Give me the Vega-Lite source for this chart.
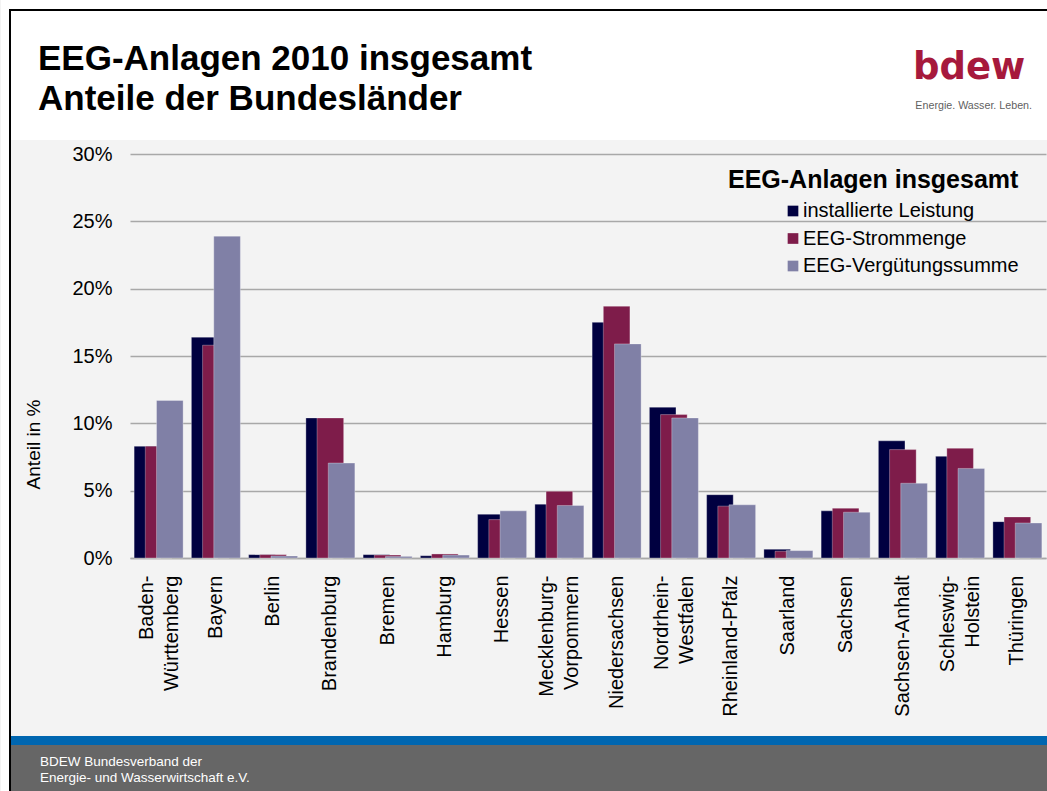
{
  "$schema": "https://vega.github.io/schema/vega-lite/v6.json",
  "width": 916,
  "height": 404,
  "padding": 0,
  "background": "#f3f3f3",
  "config": {"view": {"stroke": null}, "font": "Liberation Sans"},
  "resolve": {"scale": {"x": "independent", "y": "independent", "color": "independent"}},
  "layer": [
    {
      "data": {"values": [{}]},
      "layer": [
        {"mark": {"type": "rect", "color": "white"},
         "encoding": {
           "x": {"datum": -0.14083, "type": "quantitative", "scale": {"domain": [0, 1], "nice": false, "zero": false}, "axis": null},
           "x2": {"datum": -0.132096},
           "y": {"datum": 1.381188, "type": "quantitative", "scale": {"domain": [0, 1], "nice": false, "zero": false}, "axis": null},
           "y2": {"datum": -0.576733}}},
        {"mark": {"type": "rect", "color": "white"},
         "encoding": {
           "x": {"datum": -0.14083, "type": "quantitative"},
           "x2": {"datum": 1.002183},
           "y": {"datum": 1.381188, "type": "quantitative"},
           "y2": {"datum": 1.358911}}},
        {"mark": {"type": "rect", "color": "white"},
         "encoding": {
           "x": {"datum": -0.129913, "type": "quantitative"},
           "x2": {"datum": 1.002183},
           "y": {"datum": 1.35396, "type": "quantitative"},
           "y2": {"datum": 1.034653}}},
        {"mark": {"type": "rect", "color": "black"},
         "encoding": {
           "x": {"datum": -0.132096, "type": "quantitative"},
           "x2": {"datum": 1.002183},
           "y": {"datum": 1.358911, "type": "quantitative"},
           "y2": {"datum": 1.35396}}},
        {"mark": {"type": "rect", "color": "black"},
         "encoding": {
           "x": {"datum": -0.132096, "type": "quantitative"},
           "x2": {"datum": -0.129913},
           "y": {"datum": 1.358911, "type": "quantitative"},
           "y2": {"datum": -0.576733}}},
        {"mark": {"type": "rect", "color": "#0066b0"},
         "encoding": {
           "x": {"datum": -0.129913, "type": "quantitative"},
           "x2": {"datum": 1.002183},
           "y": {"datum": -0.440594, "type": "quantitative"},
           "y2": {"datum": -0.462871}}},
        {"mark": {"type": "rect", "color": "#666666"},
         "encoding": {
           "x": {"datum": -0.129913, "type": "quantitative"},
           "x2": {"datum": 1.002183},
           "y": {"datum": -0.462871, "type": "quantitative"},
           "y2": {"datum": -0.576733}}},
        {"mark": {"type": "text", "text": ["EEG-Anlagen 2010 insgesamt", "Anteile der Bundesländer"], "align": "left", "baseline": "alphabetic", "fontSize": 35, "fontWeight": "bold", "lineHeight": 40, "color": "black", "font": "Liberation Sans"},
         "encoding": {
           "x": {"datum": -0.100437, "type": "quantitative"},
           "y": {"datum": 1.207921, "type": "quantitative"}}},
        {"mark": {"type": "text", "text": "bdew", "align": "left", "baseline": "alphabetic", "fontSize": 37, "fontWeight": "bold", "color": "#a6193c", "font": "DejaVu Sans"},
         "encoding": {
           "x": {"datum": 0.854803, "type": "quantitative"},
           "y": {"datum": 1.185644, "type": "quantitative"}}},
        {"mark": {"type": "text", "text": "Energie. Wasser. Leben.", "align": "right", "baseline": "alphabetic", "fontSize": 10.7, "color": "#5f5f5f", "font": "Liberation Sans"},
         "encoding": {
           "x": {"datum": 0.984716, "type": "quantitative"},
           "y": {"datum": 1.111386, "type": "quantitative"}}},
        {"mark": {"type": "text", "text": ["BDEW Bundesverband der", "Energie- und Wasserwirtschaft e.V."], "align": "left", "baseline": "alphabetic", "fontSize": 13.5, "lineHeight": 16, "color": "white", "font": "Liberation Sans"},
         "encoding": {
           "x": {"datum": -0.098253, "type": "quantitative"},
           "y": {"datum": -0.514851, "type": "quantitative"}}}
      ]
    },
    {
      "data": {"values": [
        {"state": "Baden-Württemberg", "series": "installierte Leistung", "value": 0.083},
        {"state": "Baden-Württemberg", "series": "EEG-Strommenge", "value": 0.083},
        {"state": "Baden-Württemberg", "series": "EEG-Vergütungssumme", "value": 0.117},
        {"state": "Bayern", "series": "installierte Leistung", "value": 0.164},
        {"state": "Bayern", "series": "EEG-Strommenge", "value": 0.158},
        {"state": "Bayern", "series": "EEG-Vergütungssumme", "value": 0.239},
        {"state": "Berlin", "series": "installierte Leistung", "value": 0.0025},
        {"state": "Berlin", "series": "EEG-Strommenge", "value": 0.0025},
        {"state": "Berlin", "series": "EEG-Vergütungssumme", "value": 0.0015},
        {"state": "Brandenburg", "series": "installierte Leistung", "value": 0.104},
        {"state": "Brandenburg", "series": "EEG-Strommenge", "value": 0.104},
        {"state": "Brandenburg", "series": "EEG-Vergütungssumme", "value": 0.0705},
        {"state": "Bremen", "series": "installierte Leistung", "value": 0.0025},
        {"state": "Bremen", "series": "EEG-Strommenge", "value": 0.0022},
        {"state": "Bremen", "series": "EEG-Vergütungssumme", "value": 0.0012},
        {"state": "Hamburg", "series": "installierte Leistung", "value": 0.0017},
        {"state": "Hamburg", "series": "EEG-Strommenge", "value": 0.003},
        {"state": "Hamburg", "series": "EEG-Vergütungssumme", "value": 0.0022},
        {"state": "Hessen", "series": "installierte Leistung", "value": 0.0325},
        {"state": "Hessen", "series": "EEG-Strommenge", "value": 0.0285},
        {"state": "Hessen", "series": "EEG-Vergütungssumme", "value": 0.035},
        {"state": "Mecklenburg-Vorpommern", "series": "installierte Leistung", "value": 0.04},
        {"state": "Mecklenburg-Vorpommern", "series": "EEG-Strommenge", "value": 0.0495},
        {"state": "Mecklenburg-Vorpommern", "series": "EEG-Vergütungssumme", "value": 0.039},
        {"state": "Niedersachsen", "series": "installierte Leistung", "value": 0.175},
        {"state": "Niedersachsen", "series": "EEG-Strommenge", "value": 0.187},
        {"state": "Niedersachsen", "series": "EEG-Vergütungssumme", "value": 0.159},
        {"state": "Nordrhein-Westfalen", "series": "installierte Leistung", "value": 0.112},
        {"state": "Nordrhein-Westfalen", "series": "EEG-Strommenge", "value": 0.1065},
        {"state": "Nordrhein-Westfalen", "series": "EEG-Vergütungssumme", "value": 0.104},
        {"state": "Rheinland-Pfalz", "series": "installierte Leistung", "value": 0.047},
        {"state": "Rheinland-Pfalz", "series": "EEG-Strommenge", "value": 0.0385},
        {"state": "Rheinland-Pfalz", "series": "EEG-Vergütungssumme", "value": 0.0395},
        {"state": "Saarland", "series": "installierte Leistung", "value": 0.0065},
        {"state": "Saarland", "series": "EEG-Strommenge", "value": 0.005},
        {"state": "Saarland", "series": "EEG-Vergütungssumme", "value": 0.0055},
        {"state": "Sachsen", "series": "installierte Leistung", "value": 0.035},
        {"state": "Sachsen", "series": "EEG-Strommenge", "value": 0.037},
        {"state": "Sachsen", "series": "EEG-Vergütungssumme", "value": 0.034},
        {"state": "Sachsen-Anhalt", "series": "installierte Leistung", "value": 0.087},
        {"state": "Sachsen-Anhalt", "series": "EEG-Strommenge", "value": 0.0805},
        {"state": "Sachsen-Anhalt", "series": "EEG-Vergütungssumme", "value": 0.0555},
        {"state": "Schleswig-Holstein", "series": "installierte Leistung", "value": 0.0755},
        {"state": "Schleswig-Holstein", "series": "EEG-Strommenge", "value": 0.0815},
        {"state": "Schleswig-Holstein", "series": "EEG-Vergütungssumme", "value": 0.0665},
        {"state": "Thüringen", "series": "installierte Leistung", "value": 0.027},
        {"state": "Thüringen", "series": "EEG-Strommenge", "value": 0.0305},
        {"state": "Thüringen", "series": "EEG-Vergütungssumme", "value": 0.026}
      ]},
      "encoding": {
        "x": {"field": "state", "type": "nominal", "sort": null,
          "scale": {"paddingInner": 0, "paddingOuter": 0},
          "axis": {"orient": "bottom", "title": null, "grid": false, "labelAngle": -90, "labelFontSize": 20, "labelColor": "black", "labelPadding": 17, "ticks": false, "domain": true, "domainColor": "#a8a8a8", "domainWidth": 1.5, "labelLimit": 300, "labelLineHeight": 25,
            "labelOffset": {"condition": {"test": "indexof(['Baden-Württemberg', 'Mecklenburg-Vorpommern', 'Nordrhein-Westfalen', 'Schleswig-Holstein'], datum.value) >= 0", "value": -12}, "value": 0},
            "labelExpr": "datum.label == 'Baden-Württemberg' ? ['Baden-', 'Württemberg'] : datum.label == 'Mecklenburg-Vorpommern' ? ['Mecklenburg-', 'Vorpommern'] : datum.label == 'Nordrhein-Westfalen' ? ['Nordrhein-', 'Westfalen'] : datum.label == 'Schleswig-Holstein' ? ['Schleswig-', 'Holstein'] : datum.label"}},
        "y": {"field": "value", "type": "quantitative",
          "scale": {"domain": [0, 0.3], "nice": false},
          "axis": {"orient": "left", "grid": true, "title": "Anteil in %", "values": [0, 0.05, 0.1, 0.15, 0.2, 0.25, 0.3], "format": ".0%", "labelFontSize": 20, "labelColor": "black", "labelPadding": 18, "ticks": false, "domain": false, "gridColor": "#a8a8a8", "gridWidth": 1.5, "titleFontSize": 19, "titleFontWeight": "normal", "titleColor": "black", "titlePadding": 28, "titleY": 290}},
        "color": {"field": "series", "type": "nominal",
          "scale": {"domain": ["installierte Leistung", "EEG-Strommenge", "EEG-Vergütungssumme"], "range": ["#000040", "#7e1c4a", "#8080a6"]},
          "legend": {"title": "EEG-Anlagen insgesamt", "orient": "none", "legendX": 598, "legendY": 14, "titleFontSize": 25, "titleFontWeight": "bold", "titleColor": "black", "titleLimit": 500, "titlePadding": 8, "labelFontSize": 20, "labelColor": "black", "labelLimit": 500, "labelOffset": 0, "symbolType": "square", "symbolSize": 114, "symbolStrokeWidth": 0, "symbolOffset": 55, "rowPadding": 7.5}}
      },
      "layer": [
        {"transform": [{"filter": "datum.series == 'installierte Leistung'"}],
         "mark": {"type": "bar", "width": 26.6, "xOffset": -11.2, "stroke": "white", "strokeOpacity": 0.3, "strokeWidth": 1}},
        {"transform": [{"filter": "datum.series == 'EEG-Strommenge'"}],
         "mark": {"type": "bar", "width": 26.6, "xOffset": 0, "stroke": "white", "strokeOpacity": 0.3, "strokeWidth": 1}},
        {"transform": [{"filter": "datum.series == 'EEG-Vergütungssumme'"}],
         "mark": {"type": "bar", "width": 26.6, "xOffset": 11.2, "stroke": "white", "strokeOpacity": 0.3, "strokeWidth": 1}}
      ]
    }
  ]
}
